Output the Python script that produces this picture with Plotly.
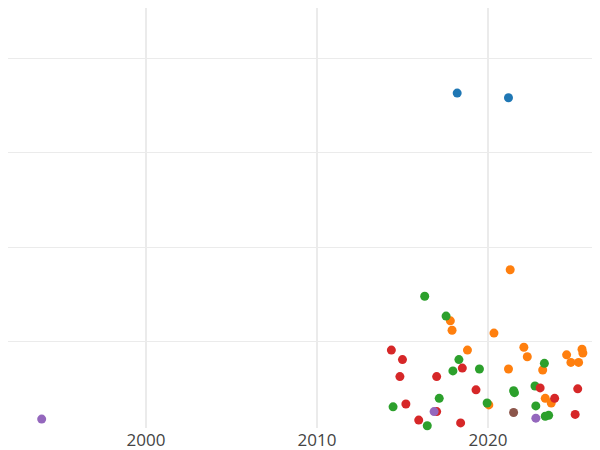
import plotly.graph_objects as go

blue_x = [2018.2, 2021.2]
blue_y = [3.63, 3.58]
orange_x = [2021.3, 2017.8, 2017.9, 2020.35, 2022.1, 2018.8, 2025.5, 2025.55, 2022.3,
            2024.6, 2024.85, 2025.3, 2021.2, 2023.2, 2023.35, 2023.7, 2020.05]
orange_y = [1.76, 1.22, 1.12, 1.09, 0.94, 0.91, 0.92, 0.88, 0.84,
            0.86, 0.78, 0.78, 0.71, 0.70, 0.40, 0.35, 0.33]
green_x = [2016.3, 2017.55, 2018.3, 2017.95, 2019.5, 2023.3, 2022.75, 2021.5, 2021.55,
           2017.15, 2014.45, 2019.95, 2022.8, 2023.55, 2023.35, 2016.45]
green_y = [1.48, 1.27, 0.81, 0.69, 0.71, 0.77, 0.53, 0.48, 0.46,
           0.40, 0.31, 0.35, 0.32, 0.22, 0.21, 0.11]
red_x = [2014.35, 2015.0, 2014.85, 2017.0, 2018.5, 2023.05, 2025.25, 2019.3, 2023.9,
         2015.2, 2017.0, 2015.95, 2018.4, 2025.1]
red_y = [0.91, 0.81, 0.63, 0.63, 0.72, 0.51, 0.50, 0.49, 0.40,
         0.34, 0.26, 0.17, 0.14, 0.23]
purple_x = [1993.9, 2016.85, 2022.8]
purple_y = [0.18, 0.26, 0.19]
brown_x = [2021.5]
brown_y = [0.25]

series = [
    (blue_x, blue_y, "#1f77b4"),
    (orange_x, orange_y, "#ff7f0e"),
    (green_x, green_y, "#2ca02c"),
    (red_x, red_y, "#d62728"),
    (purple_x, purple_y, "#9467bd"),
    (brown_x, brown_y, "#8c564b"),
]

fig = go.Figure()
for xs, ys, c in series:
    fig.add_scatter(x=xs, y=ys, mode="markers", marker=dict(color=c, size=9),
                    showlegend=False, cliponaxis=False)

fig.update_layout(
    template="plotly_white", width=600, height=450,
    margin=dict(l=0, r=0, t=0, b=30, pad=0),
    font=dict(family="Open Sans", size=17, color="#444"),
    xaxis=dict(range=[1991.93, 2027.02], tickvals=[2000, 2010, 2020],
               gridcolor="#ebebeb", gridwidth=2, zeroline=False, automargin=False),
    yaxis=dict(range=[0.086, 4.53], tickvals=[1, 2, 3, 4], showticklabels=False,
               gridcolor="#ebebeb", zeroline=False, automargin=False),
)
fig.write_html("out.html")
